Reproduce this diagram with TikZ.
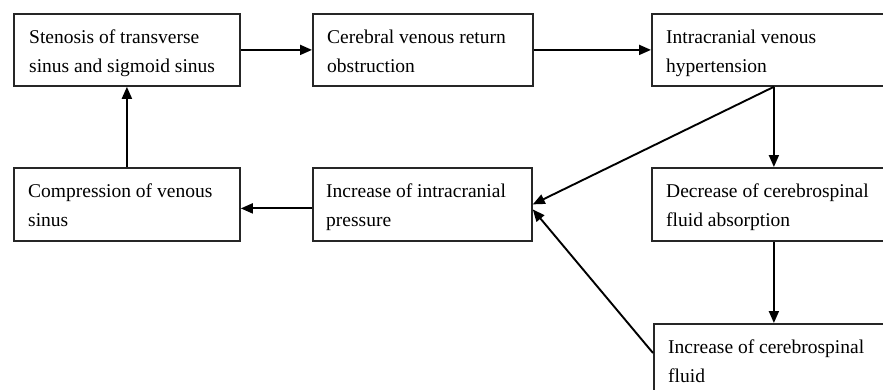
\documentclass[tikz,border=0pt]{standalone}
\usepackage{fontspec}
\setmainfont{Liberation Serif}
\usetikzlibrary{arrows.meta,calc}
\begin{document}
\begin{tikzpicture}[x=1pt,y=-1pt,
  box/.style={draw=black!85, line width=1.8pt, anchor=north west, inner sep=0pt, minimum height=72pt},
  lbl/.style={anchor=base west, inner sep=0pt, align=left, font=\fontsize{19.5pt}{29.5pt}\selectfont},
  arr/.style={line width=1.9pt, -{Triangle[length=12pt,width=10pt]}}]
\useasboundingbox (0,0) rectangle (883,389);
\clip (0,0) rectangle (883,389);
\fill[white] (0,0) rectangle (883,389);
% boxes
\node[box, minimum width=226pt] (b1) at (13,13) {};
\node[box, minimum width=220pt] (b2) at (312,13) {};
\node[box, minimum width=244pt] (b3) at (651,13) {};
\node[box, minimum width=226pt, minimum height=73pt] (b4) at (13,167) {};
\node[box, minimum width=219pt, minimum height=73pt] (b5) at (312,167) {};
\node[box, minimum width=244pt, minimum height=73pt] (b6) at (651,167) {};
\node[box, minimum width=240pt] (b7) at (653,323) {};
% labels (base anchor = baseline of the last line)
\node[lbl] (t1) at ($(b1.north west)+(16,59.5)$) {Stenosis of transverse\\sinus and sigmoid sinus};
\node[lbl] (t2) at ($(b2.north west)+(15,59.5)$) {Cerebral venous return\\obstruction};
\node[lbl] (t3) at ($(b3.north west)+(15,59.5)$) {Intracranial venous\\hypertension};
\node[lbl] (t4) at ($(b4.north west)+(15,59.5)$) {Compression of venous\\sinus};
\node[lbl] (t5) at ($(b5.north west)+(14,59.5)$) {Increase of intracranial\\pressure};
\node[lbl] (t6) at ($(b6.north west)+(15,59.5)$) {Decrease of cerebrospinal\\fluid absorption};
\node[lbl] (t7) at ($(b7.north west)+(15,59.5)$) {Increase of cerebrospinal\\fluid};
% helper coordinates
\coordinate (b5in) at ($(b5.east)+(0,5)$);
\coordinate (b7out) at ($(b7.north west)+(0,30)$);
% connectors
\draw[arr] (b1.east) -- (b2.west);
\draw[arr] (b2.east) -- (b3.west);
\draw[arr] (b3.south) -- (b6.north);
\draw[arr] (b3.south) -- (b5.east);
\draw[arr] (b6.south) -- (b7.north);
\draw[arr] (b7out) -- (b5in);
\draw[arr] ($(b5.west)+(0,4)$) -- ($(b4.east)+(0,4)$);
\draw[arr] (b4.north) -- (b1.south);
\end{tikzpicture}
\end{document}
